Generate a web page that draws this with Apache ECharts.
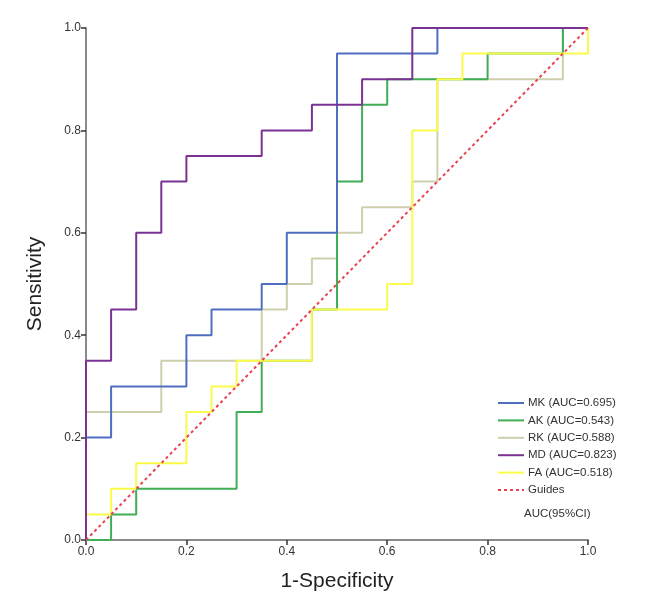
<!DOCTYPE html>
<html>
<head>
<meta charset="utf-8">
<script src="https://cdn.jsdelivr.net/npm/echarts@6/dist/echarts.min.js"></script>
<style>
html,body{margin:0;padding:0;background:#fff;}
#chart{width:649px;height:615px;}
</style>
</head>
<body>
<div id="chart"></div>
<script>
// ROC step curves: corner points (1-Specificity, Sensitivity)
var mkX = [0, 0, 0.05, 0.05, 0.2, 0.2, 0.25, 0.25, 0.35, 0.35, 0.4, 0.4, 0.5, 0.5, 0.7, 0.7, 1];
var mkY = [0, 0.2, 0.2, 0.3, 0.3, 0.4, 0.4, 0.45, 0.45, 0.5, 0.5, 0.6, 0.6, 0.95, 0.95, 1, 1];

var akX = [0, 0.05, 0.05, 0.1, 0.1, 0.3, 0.3, 0.35, 0.35, 0.45, 0.45, 0.5, 0.5, 0.55, 0.55, 0.6, 0.6, 0.8, 0.8, 0.95, 0.95, 1];
var akY = [0, 0, 0.05, 0.05, 0.1, 0.1, 0.25, 0.25, 0.35, 0.35, 0.45, 0.45, 0.7, 0.7, 0.85, 0.85, 0.9, 0.9, 0.95, 0.95, 1, 1];

var rkX = [0, 0, 0.15, 0.15, 0.35, 0.35, 0.4, 0.4, 0.45, 0.45, 0.5, 0.5, 0.55, 0.55, 0.65, 0.65, 0.7, 0.7, 0.95, 0.95, 1];
var rkY = [0, 0.25, 0.25, 0.35, 0.35, 0.45, 0.45, 0.5, 0.5, 0.55, 0.55, 0.6, 0.6, 0.65, 0.65, 0.7, 0.7, 0.9, 0.9, 1, 1];

var mdX = [0, 0, 0.05, 0.05, 0.1, 0.1, 0.15, 0.15, 0.2, 0.2, 0.35, 0.35, 0.45, 0.45, 0.55, 0.55, 0.65, 0.65, 1];
var mdY = [0, 0.35, 0.35, 0.45, 0.45, 0.6, 0.6, 0.7, 0.7, 0.75, 0.75, 0.8, 0.8, 0.85, 0.85, 0.9, 0.9, 1, 1];

var faX = [0, 0, 0.05, 0.05, 0.1, 0.1, 0.2, 0.2, 0.25, 0.25, 0.3, 0.3, 0.45, 0.45, 0.6, 0.6, 0.65, 0.65, 0.7, 0.7, 0.75, 0.75, 1, 1];
var faY = [0, 0.05, 0.05, 0.1, 0.1, 0.15, 0.15, 0.25, 0.25, 0.3, 0.3, 0.35, 0.35, 0.45, 0.45, 0.5, 0.5, 0.8, 0.8, 0.9, 0.9, 0.95, 0.95, 1];

var guideX = [0, 1];
var guideY = [0, 1];

var seriesNames = ['MK (AUC=0.695)', 'AK (AUC=0.543)', 'RK (AUC=0.588)', 'MD (AUC=0.823)', 'FA (AUC=0.518)', 'Guides'];
var tickLabels = ['0.0', '0.2', '0.4', '0.6', '0.8', '1.0'];

function pairs(xs, ys) { return xs.map(function (x, i) { return [x, ys[i]]; }); }

var colors = {
  MK: '#4e6fc0',
  AK: '#3fae55',
  RK: '#cfcfae',
  MD: '#7b3393',
  FA: '#fbfb4a',
  G: '#e8414f'
};

function lineSeries(name, data, color, z, dashed) {
  return {
    name: name, type: 'line', data: data, symbol: 'none', showSymbol: false, z: z,
    lineStyle: { color: color, width: 2, type: dashed ? [3, 3] : 'solid' },
    itemStyle: { color: color },
    animation: false
  };
}

var chart = echarts.init(document.getElementById('chart'));
var fontFam = '"Liberation Sans", Arial, sans-serif';
chart.setOption({
  backgroundColor: '#ffffff',
  animation: false,
  grid: { left: 86, right: 61, top: 28, bottom: 75 },
  xAxis: {
    type: 'value', min: 0, max: 1, interval: 0.2,
    name: '1-Specificity', nameLocation: 'middle', nameGap: 31,
    nameTextStyle: { fontSize: 21, color: '#222', fontFamily: fontFam },
    axisLine: { show: true, lineStyle: { color: '#8a8a8a', width: 2 } },
    axisTick: { show: true, length: 5, lineStyle: { color: '#333', width: 1.5 } },
    axisLabel: { fontSize: 12, color: '#333', margin: 6, fontFamily: fontFam,
      formatter: function (v) { return tickLabels[Math.round(v / 0.2)]; } },
    splitLine: { show: false }
  },
  yAxis: {
    type: 'value', min: 0, max: 1, interval: 0.2,
    name: 'Sensitivity', nameLocation: 'middle', nameGap: 40,
    nameTextStyle: { fontSize: 21, color: '#222', fontFamily: fontFam },
    axisLine: { show: true, lineStyle: { color: '#8a8a8a', width: 2 } },
    axisTick: { show: true, length: 5, lineStyle: { color: '#333', width: 1.5 } },
    axisLabel: { fontSize: 12, color: '#333', margin: 5, fontFamily: fontFam,
      formatter: function (v) { return tickLabels[Math.round(v / 0.2)]; } },
    splitLine: { show: false }
  },
  legend: {
    orient: 'vertical', left: 492, top: 392,
    itemWidth: 26, itemHeight: 12, itemGap: 5.4,
    itemStyle: { opacity: 0 },
    textStyle: { fontSize: 11.5, color: '#333', fontFamily: fontFam, padding: [0, 0, 0, -1] },
    data: seriesNames
  },
  graphic: [{
    type: 'text', left: 524, top: 508,
    style: { text: 'AUC(95%CI)', fill: '#333', font: '11.5px ' + fontFam }
  }],
  series: [
    lineSeries(seriesNames[2], pairs(rkX, rkY), colors.RK, 2),
    lineSeries(seriesNames[1], pairs(akX, akY), colors.AK, 3),
    lineSeries(seriesNames[0], pairs(mkX, mkY), colors.MK, 4),
    lineSeries(seriesNames[4], pairs(faX, faY), colors.FA, 5),
    lineSeries(seriesNames[3], pairs(mdX, mdY), colors.MD, 6),
    lineSeries(seriesNames[5], pairs(guideX, guideY), colors.G, 7, true)
  ]
});
</script>
</body>
</html>
